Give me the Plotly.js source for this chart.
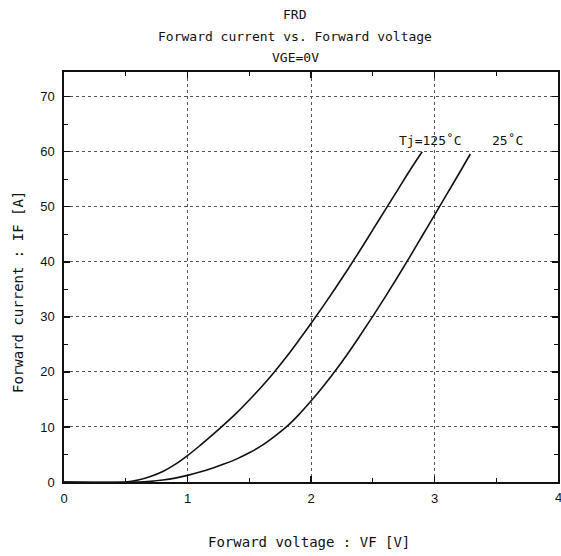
<!DOCTYPE html>
<html>
<head>
<meta charset="utf-8">
<script src="https://cdn.plot.ly/plotly-3.0.1.min.js"></script>
<style>html,body{margin:0;padding:0;background:#fff;}#chart{width:561px;height:556px;}</style>
</head>
<body>
<div id="chart"></div>
<script>
// Tj = 125 °C curve
const vf125 = [0, 0.5, 0.6, 0.7, 0.8, 0.9, 1.0, 1.1, 1.2, 1.3, 1.4, 1.5, 1.6, 1.7, 1.8, 1.9, 2.0, 2.1, 2.2, 2.3, 2.4, 2.5, 2.6, 2.7, 2.8, 2.9];
const if125 = [0, 0, 0.35, 1.0, 1.9, 3.2, 4.8, 6.6, 8.5, 10.5, 12.6, 14.9, 17.3, 19.9, 22.7, 25.7, 28.8, 32.0, 35.3, 38.7, 42.2, 45.8, 49.4, 53.0, 56.6, 60.0];
// Tj = 25 °C curve
const vf25 = [0, 0.6, 0.7, 0.8, 0.9, 1.0, 1.1, 1.2, 1.3, 1.4, 1.5, 1.6, 1.7, 1.8, 1.9, 2.0, 2.1, 2.2, 2.3, 2.4, 2.5, 2.6, 2.7, 2.8, 2.9, 3.0, 3.1, 3.2, 3.29];
const if25 = [0, 0, 0.12, 0.35, 0.7, 1.2, 1.8, 2.5, 3.3, 4.2, 5.3, 6.6, 8.2, 10.0, 12.2, 14.7, 17.4, 20.3, 23.4, 26.7, 30.1, 33.6, 37.2, 40.9, 44.7, 48.5, 52.3, 56.1, 59.6];

const titleLines = ["FRD", "Forward current vs. Forward voltage", "VGE=0V"];
const curveLabels = ["Tj=125˚C", "25˚C"];
const xTicks = [0, 1, 2, 3, 4];
const yTicks = [0, 10, 20, 30, 40, 50, 60, 70];

const mono = "DejaVu Sans Mono, monospace";
const L = 64, R = 558, T = 72, B = 482;
const px = v => (v - L) / (R - L);
const py = v => (B - v) / (B - T);

const lineStyle = {color: "#111", width: 1.6, shape: "spline", smoothing: 1, simplify: false};
const traces = [
  {x: vf125, y: if125, mode: "lines", line: lineStyle, hoverinfo: "skip"},
  {x: vf25, y: if25, mode: "lines", line: lineStyle, hoverinfo: "skip"}
];

const titleY = [14, 37, 58];
const annotations = titleLines.map((t, i) => ({
  text: t, xref: "paper", yref: "paper", x: px(295), y: py(titleY[i]),
  showarrow: false, xanchor: "center", yanchor: "middle",
  font: {family: mono, size: 13, color: "#111"}
}));
annotations.push({text: curveLabels[0], xref: "x", yref: "y", x: 2.97, y: 62.0, xanchor: "center", yanchor: "middle",
  showarrow: false, font: {family: mono, size: 13, color: "#111"}});
annotations.push({text: curveLabels[1], xref: "x", yref: "y", x: 3.59, y: 62.0, xanchor: "center", yanchor: "middle",
  showarrow: false, font: {family: mono, size: 13, color: "#111"}});
annotations.push({text: String(xTicks[4]), xref: "x", yref: "paper", x: xTicks[4], y: py(497), xanchor: "center", yanchor: "middle",
  showarrow: false, font: {family: "Liberation Sans, Arial, sans-serif", size: 13, color: "#111"}});
annotations.push({text: "Forward voltage : VF [V]", xref: "paper", yref: "paper", x: px(309), y: py(542),
  showarrow: false, xanchor: "center", yanchor: "middle", font: {family: mono, size: 14, color: "#111"}});
annotations.push({text: "Forward current : IF [A]", xref: "paper", yref: "paper", x: px(18), y: py(292),
  showarrow: false, xanchor: "center", yanchor: "middle", textangle: -90, font: {family: mono, size: 14, color: "#111"}});

const layout = {
  width: 561, height: 556,
  margin: {l: L, r: 561 - R, t: T, b: 556 - B, pad: 0},
  paper_bgcolor: "#fff", plot_bgcolor: "#fff",
  showlegend: false,
  xaxis: {
    range: [0, 4], tickvals: xTicks, ticktext: xTicks.map(String),
    showgrid: true, gridcolor: "#555", griddash: "dot", gridwidth: 1,
    zeroline: false, showline: true, linecolor: "#111", linewidth: 1.6, mirror: "ticks",
    ticks: "inside", ticklen: 6, tickcolor: "#111", tickwidth: 1.3,
    minor: {dtick: 0.5, tick0: 0, ticks: "inside", ticklen: 4, tickcolor: "#111", showgrid: false},
    tickfont: {family: "Liberation Sans, Arial, sans-serif", size: 13, color: "#111"},
    ticklabelstandoff: 4
  },
  yaxis: {
    range: [0, 74.5], tickvals: yTicks, ticktext: yTicks.map(String),
    showgrid: true, gridcolor: "#555", griddash: "dot", gridwidth: 1,
    zeroline: false, showline: true, linecolor: "#111", linewidth: 1.6, mirror: "ticks",
    ticks: "inside", ticklen: 6, tickcolor: "#111", tickwidth: 1.3,
    minor: {dtick: 5, tick0: 0, ticks: "inside", ticklen: 4, tickcolor: "#111", showgrid: false},
    tickfont: {family: "Liberation Sans, Arial, sans-serif", size: 13, color: "#111"},
    ticklabelstandoff: 5
  },
  annotations: annotations
};

Plotly.newPlot("chart", traces, layout, {staticPlot: true, displayModeBar: false});
</script>
</body>
</html>
